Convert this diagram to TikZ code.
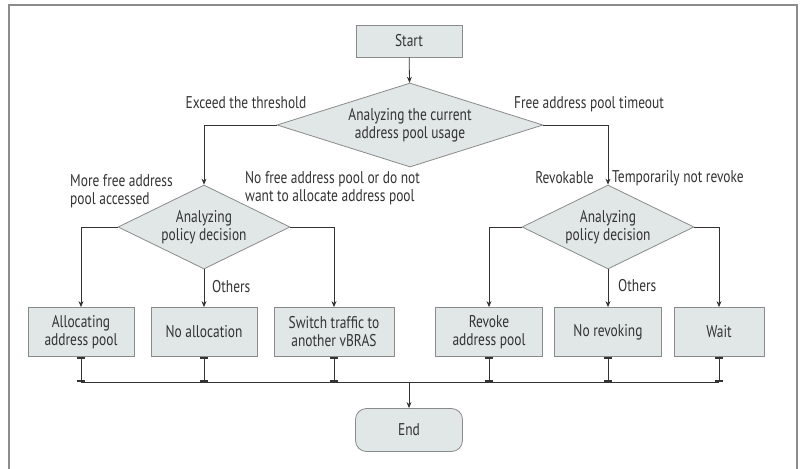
\documentclass[tikz,border=0pt]{standalone}
\usepackage{fontspec}
\setmainfont[FakeStretch=0.79]{PT Sans}
\usetikzlibrary{shapes.geometric,arrows.meta,positioning}
\definecolor{boxfill}{HTML}{E0E7E6}
\definecolor{boxline}{HTML}{8A8A8A}
\definecolor{ink}{HTML}{333333}
\definecolor{framegray}{HTML}{8C8C8C}
\tikzset{
  every node/.style={font=\fontsize{17}{18}\selectfont, text=ink},
  procbox/.style={draw=boxline, fill=boxfill, line width=0.8pt, align=center, inner sep=0pt},
  decision/.style={diamond, draw=boxline, fill=boxfill, line width=0.8pt, align=center, inner sep=0pt},
  terminal/.style={draw=boxline, fill=boxfill, line width=0.8pt, rounded corners=11pt, inner sep=0pt},
  flow/.style={draw=ink, line width=0.8pt, -{Stealth[length=6pt,width=5pt]}},
  joint/.style={draw=ink, line width=0.8pt,
    {Bar[width=8pt,line width=1.6pt]}-{Bar[width=8pt,line width=1.6pt]}},
  lbl/.style={align=left, inner sep=0pt}
}
\begin{document}
\begin{tikzpicture}[x=1pt,y=-1pt]
\useasboundingbox (0,0) rectangle (804,469);
% outer frame (open at the bottom edge)
\draw[framegray, line width=1.3pt] (9,480) -- (9,5) -- (797,5) -- (797,480);

% start and first decision
\node[procbox, minimum width=106pt, minimum height=32pt] (start) at (409,41) {Start};
\node[decision, aspect=3.17, minimum width=266pt, minimum height=84pt] (d1) at (410,125)
  {Analyzing the current\\address pool usage};

% second-level decisions
\node[decision, aspect=2.05, minimum width=172pt, minimum height=84pt] (d2) at (204,227)
  {Analyzing\\policy decision};
\node[decision, aspect=2.05, minimum width=172pt, minimum height=84pt] (d3) at (608,227)
  {Analyzing\\policy decision};

% outcome boxes
\node[procbox, minimum width=106pt, minimum height=49pt] (b1) at (81,332) {Allocating\\address pool};
\node[procbox, minimum width=106pt, minimum height=49pt] (b2) at (204,332) {No allocation};
\node[procbox, minimum width=120pt, minimum height=49pt] (b3) at (334,332) {Switch traffic to\\another vBRAS};
\node[procbox, minimum width=107pt, minimum height=49pt] (b4) at (489,332) {Revoke\\address pool};
\node[procbox, minimum width=107pt, minimum height=49pt] (b5) at (608,332) {No revoking};
\node[procbox, minimum width=90pt, minimum height=49pt] (b6) at (719,332) {Wait};

% end
\node[terminal, minimum width=107pt, minimum height=43pt] (end) at (409,430) {End};

% collecting bus
\coordinate (bus) at (409,382);

% connectors
\draw[flow] (start) -- (d1);
\draw[flow] (d1.west) -| (d2.north);
\draw[flow] (d1.east) -| (d3.north);
\draw[flow] (d2.west) -| (b1.north);
\draw[flow] (d2.east) -| (b3.north);
\draw[flow] (d2.south) -- (b2.north);
\draw[flow] (d3.west) -| (b4.north);
\draw[flow] (d3.east) -| (b6.north);
\draw[flow] (d3.south) -- (b5.north);

\foreach \b in {b1,b2,b3,b4,b5,b6}
  \draw[joint] (\b.south) -- (\b.south |- bus);
\draw[draw=ink, line width=0.8pt] (b1.south |- bus) -- (b6.south |- bus);
\draw[flow] (bus) -- (end.north);

% branch labels
\node[lbl, anchor=center] (l1) at (246,103) {Exceed the threshold};
\node[lbl, anchor=center] (l2) at (589,104) {Free address pool timeout};
\node[lbl, anchor=west] (l3) at (70,191) {More free address\\pool accessed};
\node[lbl, anchor=west] (l4) at (245,188) {No free address pool or do not\\want to allocate address pool};
\node[lbl, anchor=west] (l5) at (212,287) {Others};
\node[lbl, anchor=east] (l6) at (594,178) {Revokable};
\node[lbl, anchor=west] (l7) at (612,178) {Temporarily not revoke};
\node[lbl, anchor=west] (l8) at (618,286) {Others};
\end{tikzpicture}
\end{document}
